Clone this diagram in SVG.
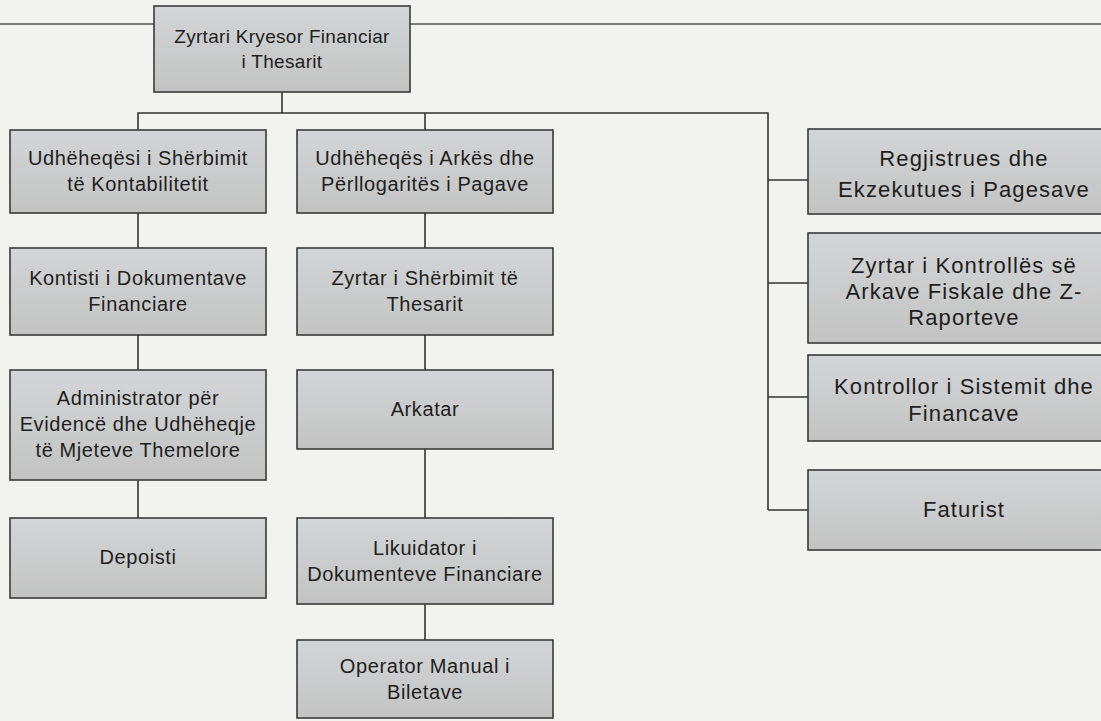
<svg xmlns="http://www.w3.org/2000/svg" width="1101" height="721" viewBox="0 0 1101 721">
<defs>
<linearGradient id="boxfill" x1="0" y1="0" x2="0" y2="1">
<stop offset="0" stop-color="#d3d5d6"/>
<stop offset="1" stop-color="#c3c3c3"/>
</linearGradient>
<style>
.box{fill:url(#boxfill);stroke:#3a3a3a;stroke-width:1.6}
.lbl{font-family:"Liberation Sans",Arial,sans-serif;font-size:20px;fill:#1e1e1e;text-anchor:middle;letter-spacing:0.6px}
.top{font-size:19px;letter-spacing:0.3px}
.rt{font-size:22px;letter-spacing:1.1px}
.con{fill:none;stroke:#333;stroke-width:1.6}
.rule{stroke:#555;stroke-width:1.5}
</style>
</defs>
<rect x="0" y="0" width="1101" height="721" fill="#f2f2f1"/>
<line class="rule" x1="0" y1="24" x2="1101" y2="24"/>
<g id="connectors">
<path class="con" d="M282 92 V113 M138 130 V113 H768 V510 M425 113 V130"/>
<path class="con" d="M768 180 H808 M768 283 H808 M768 397 H808 M768 510 H808"/>
<path class="con" d="M138 213 V248 M138 335 V370 M138 480 V518"/>
<path class="con" d="M425 213 V248 M425 335 V370 M425 449 V518 M425 604 V640"/>
</g>
<g id="n-top"><rect class="box" x="154" y="6" width="256" height="86"/>
<text class="lbl top" x="282" y="42.5">Zyrtari Kryesor Financiar</text><text class="lbl top" x="282" y="68">i Thesarit</text></g>
<g id="n-a1"><rect class="box" x="10" y="130" width="256" height="83"/>
<text class="lbl" x="138" y="165">Udhëheqësi i Shërbimit</text><text class="lbl" x="138" y="191">të Kontabilitetit</text></g>
<g id="n-a2"><rect class="box" x="10" y="248" width="256" height="87"/>
<text class="lbl" x="138" y="285">Kontisti i Dokumentave</text><text class="lbl" x="138" y="311">Financiare</text></g>
<g id="n-a3"><rect class="box" x="10" y="370" width="256" height="110"/>
<text class="lbl" x="138" y="405">Administrator për</text><text class="lbl" x="138" y="431">Evidencë dhe Udhëheqje</text><text class="lbl" x="138" y="457">të Mjeteve Themelore</text></g>
<g id="n-a4"><rect class="box" x="10" y="518" width="256" height="80"/>
<text class="lbl" x="138" y="564">Depoisti</text></g>
<g id="n-b1"><rect class="box" x="297" y="130" width="256" height="83"/>
<text class="lbl" x="425" y="165">Udhëheqës i Arkës dhe</text><text class="lbl" x="425" y="191">Përllogaritës i Pagave</text></g>
<g id="n-b2"><rect class="box" x="297" y="248" width="256" height="87"/>
<text class="lbl" x="425" y="285">Zyrtar i Shërbimit të</text><text class="lbl" x="425" y="311">Thesarit</text></g>
<g id="n-b3"><rect class="box" x="297" y="370" width="256" height="79"/>
<text class="lbl" x="425" y="416">Arkatar</text></g>
<g id="n-b4"><rect class="box" x="297" y="518" width="256" height="86"/>
<text class="lbl" x="425" y="555">Likuidator i</text><text class="lbl" x="425" y="581">Dokumenteve Financiare</text></g>
<g id="n-b5"><rect class="box" x="297" y="640" width="256" height="78"/>
<text class="lbl" x="425" y="673">Operator Manual i</text><text class="lbl" x="425" y="699">Biletave</text></g>
<g id="n-c1"><rect class="box" x="808" y="129" width="300" height="85"/>
<text class="lbl rt" x="964" y="166">Regjistrues dhe</text><text class="lbl rt" x="964" y="197">Ekzekutues i Pagesave</text></g>
<g id="n-c2"><rect class="box" x="808" y="233" width="300" height="110"/>
<text class="lbl rt" x="964" y="273">Zyrtar i Kontrollës së</text><text class="lbl rt" x="964" y="299">Arkave Fiskale dhe Z-</text><text class="lbl rt" x="964" y="325">Raporteve</text></g>
<g id="n-c3"><rect class="box" x="808" y="355" width="300" height="86"/>
<text class="lbl rt" x="964" y="394">Kontrollor i Sistemit dhe</text><text class="lbl rt" x="964" y="421">Financave</text></g>
<g id="n-c4"><rect class="box" x="808" y="470" width="300" height="80"/>
<text class="lbl rt" x="964" y="517">Faturist</text></g>
</svg>
